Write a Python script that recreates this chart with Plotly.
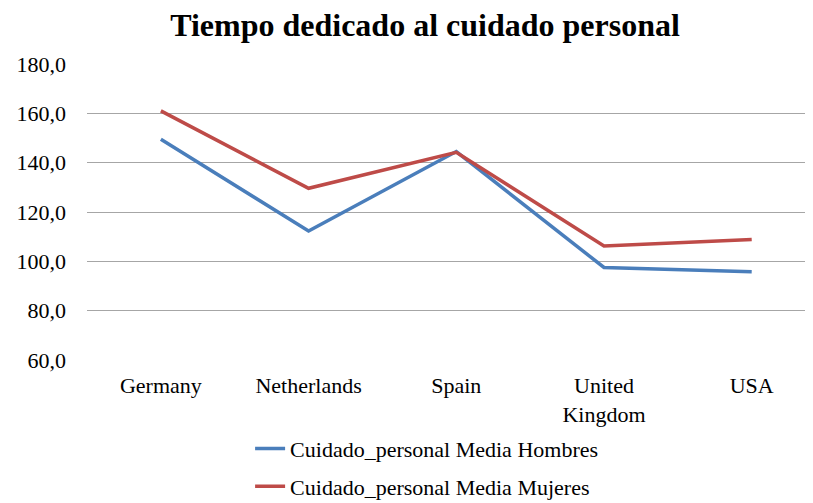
import plotly.graph_objects as go

countries = ["Germany", "Netherlands", "Spain", "United<br>Kingdom", "USA"]
hombres = [149.5, 112.3, 144.5, 97.5, 95.8]
mujeres = [161.0, 129.6, 144.2, 106.2, 108.9]
y_ticks = [60, 80, 100, 120, 140, 160, 180]
y_tick_labels = ["60,0", "80,0", "100,0", "120,0", "140,0", "160,0", "180,0"]

SERIF = "Liberation Serif"

# The page body has an 8px margin, so the figure is sized to fill the rest.
W, H = 805, 495

fig = go.Figure()
fig.add_trace(go.Scatter(
    x=countries, y=hombres, mode="lines",
    name="Cuidado_personal Media Hombres",
    line=dict(color="#4a7ebb", width=3.5),
    legendgroup="h",
))
fig.add_trace(go.Scatter(
    x=countries, y=mujeres, mode="lines",
    name="Cuidado_personal Media Mujeres",
    line=dict(color="#be4b48", width=3.5),
    legendgroup="m",
))

fig.update_layout(
    width=W, height=H,
    paper_bgcolor="white", plot_bgcolor="white",
    margin=dict(l=79, r=0, t=56, b=143, autoexpand=False),
    title=dict(
        text="<b>Tiempo dedicado al cuidado personal</b>",
        x=0.518, xanchor="center", y=0.967, yanchor="middle",
        font=dict(family=SERIF, size=32, color="black"),
    ),
    font=dict(family=SERIF, size=20, color="black"),
    showlegend=True,
    legend=dict(
        orientation="v",
        xref="container", yref="container",
        x=0.52, xanchor="center", y=0.152, yanchor="top",
        font=dict(family=SERIF, size=22, color="black"),
        traceorder="grouped", tracegroupgap=6,
        bgcolor="rgba(0,0,0,0)",
    ),
    xaxis=dict(
        type="category",
        range=[-0.5, 4.415],
        showgrid=False, zeroline=False,
        showline=False, tickangle=0,
        ticks="", ticklabelstandoff=10,
        tickfont=dict(family=SERIF, size=22, color="black"),
        fixedrange=True,
    ),
    yaxis=dict(
        range=[60, 180],
        tickvals=y_ticks, ticktext=y_tick_labels,
        showgrid=True, gridcolor="#a6a6a6", gridwidth=1.3,
        zeroline=False, showline=False,
        ticks="", ticklabelstandoff=20,
        tickfont=dict(family=SERIF, size=22, color="black"),
        fixedrange=True,
    ),
)

fig.write_html("out.html")
